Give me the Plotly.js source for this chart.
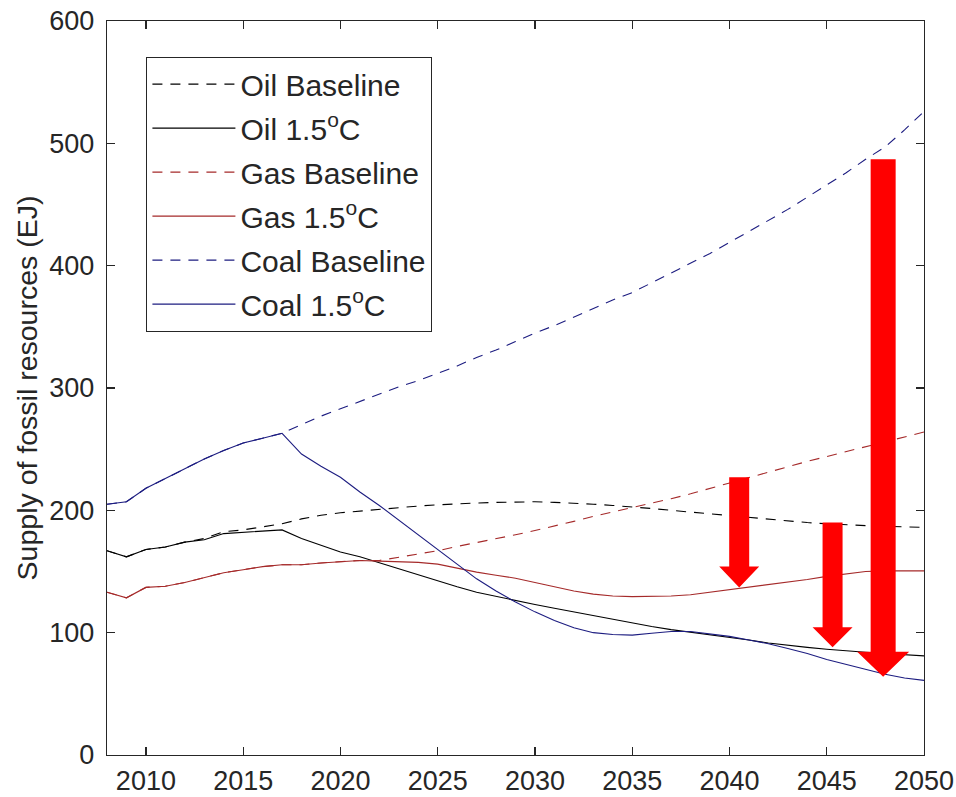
<!DOCTYPE html>
<html>
<head>
<meta charset="utf-8">
<script src="https://cdn.plot.ly/plotly-3.0.1.min.js"></script>
<style>
  html, body { margin: 0; padding: 0; background: #ffffff; }
  #chart { width: 956px; height: 797px; }
</style>
</head>
<body>
<div id="chart"></div>
<script>
// Years 2008-2050, one value per year (EJ)
const years = [];
for (let y = 2008; y <= 2050; y++) years.push(y);

const oilBaseline = [167, 162, 168, 170, 174, 177, 182.5, 184, 186.5, 189,
  193, 196, 198, 199.5, 201, 202.5, 203.5, 204.5, 205.5, 206,
  206.5, 207, 207, 206.5, 206, 205, 204, 203, 201.5, 200,
  198.5, 197, 195.5, 194, 192.5, 191, 190, 189, 188, 187.5,
  187, 186.5, 186];

const oil15 = [167, 162, 168, 170, 174, 176, 181, 182, 183.5, 184,
  177, 171.5, 166, 162, 157, 152, 147, 142, 137.5, 133,
  129.5, 126, 123, 120, 117, 113.5, 110.5, 107.5, 105, 102.5,
  100.5, 98.5, 96.5, 94, 91.5, 89.5, 88, 86.5, 85, 84,
  83, 82, 81];

const gasBaseline = [133, 128.5, 137, 138, 141, 145, 149, 151.5, 154, 155.5,
  155.5, 157, 158, 159, 159, 161.5, 164, 167, 170.5, 173.5,
  177, 180, 183.5, 187, 191, 195, 198.5, 202, 205.5, 209.5,
  213.5, 218, 222, 226.5, 231, 235.5, 240, 244, 248, 252,
  256, 260, 264];

const gas15 = [133, 128.5, 137, 138, 141, 145, 149, 151.5, 154, 155.5,
  155.5, 157, 158, 159, 158.5, 158, 157.5, 156, 152.5, 149.5,
  147, 144.5, 141, 137.5, 134, 131.5, 130, 129.5, 129.5, 130,
  131, 133, 135.5, 137.5, 139.5, 141.5, 143.5, 146, 148, 150,
  150.5, 150.5, 150.5];

const coalBaseline = [205, 207, 218, 226, 234, 242, 249, 255, 259, 263,
  270, 277, 283, 289, 295, 301, 306, 312, 318, 325,
  331, 338, 345, 351, 358, 365, 372, 378, 386, 394,
  402, 410, 419, 428, 437, 446, 456, 466, 476, 487,
  497, 511, 526];

const coal15 = [205, 207, 218, 226, 234, 242, 249, 255, 259, 263,
  246, 236, 227, 215, 204, 192, 180, 168, 156, 144,
  134, 125, 117, 110, 104, 100, 98.5, 98, 99.5, 101,
  101, 99, 97, 94, 91, 87, 83, 78, 74, 70,
  66, 63, 61];

// Reduction arrows: year, baseline value (tail) and 1.5°C value (tip)
const arrowYear = [2040.5, 2045.3, 2047.9];
const arrowFrom = [227, 190, 487];
const arrowTo = [137, 88, 64];

const FONT = 'Liberation Sans, Arial, Helvetica, sans-serif';
const TEXT = '#262626';
const OIL = '#000000';
const GAS = '#a52a2a';
const COAL = '#1c1c80';
const DASH = '10px,8px';

function series(name, y, color, dash) {
  return {
    x: years, y: y, name: name, type: 'scatter', mode: 'lines',
    legendgroup: name,
    line: { color: color, width: 1.1, dash: dash },
    hoverinfo: 'skip'
  };
}

const traces = [
  series('Oil Baseline', oilBaseline, OIL, DASH),
  series('Oil 1.5<sup>o</sup>C', oil15, OIL, 'solid'),
  series('Gas Baseline', gasBaseline, GAS, DASH),
  series('Gas 1.5<sup>o</sup>C', gas15, GAS, 'solid'),
  series('Coal Baseline', coalBaseline, COAL, DASH),
  series('Coal 1.5<sup>o</sup>C', coal15, COAL, 'solid')
];

// Arrow geometry in pixels (x) and data units (y)
const plotH = 797 - 21 - 42;
const yRange = [0, 600];
const unitsPerPx = (yRange[1] - yRange[0]) / plotH;
const shaftHalf = [10, 10, 12.5];
const headHalf = [20, 20, 26];
const headLenPx = [21, 20, 25];

const shapes = arrowYear.map((yr, i) => {
  const s = shaftHalf[i], h = headHalf[i];
  const top = arrowFrom[i], tip = arrowTo[i];
  const base = tip + headLenPx[i] * unitsPerPx;
  const path = `M${-s},${top} L${s},${top} L${s},${base} L${h},${base} ` +
               `L0,${tip} L${-h},${base} L${-s},${base} Z`;
  return {
    type: 'path', xref: 'x', yref: 'y',
    xsizemode: 'pixel', xanchor: yr,
    path: path,
    fillcolor: '#ff0000', line: { width: 0 }, layer: 'above'
  };
});

const axisCommon = {
  showgrid: false, zeroline: false,
  showline: true, linecolor: TEXT, linewidth: 1.2,
  mirror: 'allticks', ticks: 'inside', ticklen: 8, tickwidth: 1.2,
  tickcolor: TEXT,
  tickfont: { family: FONT, size: 27, color: TEXT }
};

const layout = {
  width: 956, height: 797,
  margin: { l: 107, r: 32, t: 21, b: 42, pad: 0 },
  paper_bgcolor: '#ffffff', plot_bgcolor: '#ffffff',
  showlegend: true,
  xaxis: Object.assign({}, axisCommon, {
    range: [2008, 2050], tickmode: 'array',
    tickvals: [2010, 2015, 2020, 2025, 2030, 2035, 2040, 2045, 2050],
    ticklabelstandoff: 1
  }),
  yaxis: Object.assign({}, axisCommon, {
    range: yRange, tickmode: 'array',
    tickvals: [0, 100, 200, 300, 400, 500, 600],
    ticklabelstandoff: 6,
    title: {
      text: 'Supply of fossil resources (EJ)',
      font: { family: FONT, size: 28.5, color: TEXT },
      standoff: 3
    }
  }),
  legend: {
    x: 0.048, y: 0.951, xanchor: 'left', yanchor: 'top',
    bgcolor: '#ffffff', bordercolor: TEXT, borderwidth: 1.2,
    font: { family: FONT, size: 30, color: TEXT },
    traceorder: 'grouped', tracegroupgap: 2, itemwidth: 83
  },
  shapes: shapes
};

Plotly.newPlot('chart', traces, layout, { staticPlot: true, displayModeBar: false });
</script>
</body>
</html>
